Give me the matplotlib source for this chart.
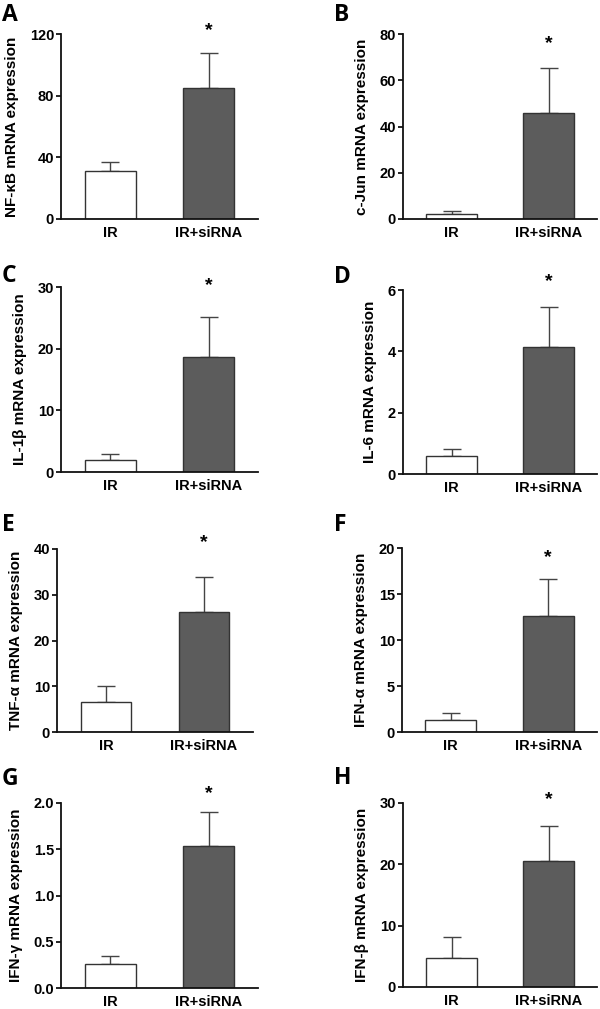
import numpy as np
import matplotlib
matplotlib.use('Agg')
from matplotlib import pyplot as plt

plt.rcParams['font.family'] = ['Liberation Sans', 'DejaVu Sans']

# data
groups = ['IR', 'IR+siRNA']
letters = ['A', 'B', 'C', 'D', 'E', 'F', 'G', 'H']
ylabels = ['NF-κB mRNA expression', 'c-Jun mRNA expression',
           'IL-1β mRNA expression', 'IL-6 mRNA expression',
           'TNF-α mRNA expression', 'IFN-α mRNA expression',
           'IFN-γ mRNA expression', 'IFN-β mRNA expression']
ir_mean = [31, 2.1, 1.9, 0.6, 6.6, 1.3, 0.26, 4.7]
ir_err = [6, 1.2, 1.0, 0.22, 3.4, 0.75, 0.09, 3.45]
si_mean = [85, 45.8, 18.6, 4.14, 26.2, 12.6, 1.535, 20.5]
si_err = [22.7, 19.5, 6.5, 1.31, 7.7, 4.0, 0.37, 5.75]
ymax = [120, 80, 30, 6, 40, 20, 2.0, 30]
yticks = [[0, 40, 80, 120], [0, 20, 40, 60, 80], [0, 10, 20, 30],
          [0, 2, 4, 6], [0, 10, 20, 30, 40], [0, 5, 10, 15, 20],
          [0.0, 0.5, 1.0, 1.5, 2.0], [0, 10, 20, 30]]
ticklabels = [None, None, None, None, None, None,
              ['0.0', '0.5', '1.0', '1.5', '2.0'], None]
star_y = [122, 76, 30.3, 6.26, 41.3, 19.0, 2.1, 30.5]

# axes boxes in pixels: left, top, width, height
W, H = 600, 1009
boxes = [(61, 34, 197, 185), (403, 34, 194, 185),
         (61, 287, 197, 185), (403, 290, 194, 184),
         (57, 549, 196, 183), (402, 548, 195, 184),
         (61, 803, 197, 185), (403, 803, 194, 184)]
letter_pos = [(2, 3), (334, 3), (2, 264), (334, 265),
              (2, 513), (334, 513), (2, 767), (334, 766)]

fig = plt.figure(figsize=(6, 10.09), dpi=100)

for i in range(8):
    l, t, w, h = boxes[i]
    ax = fig.add_axes([l / W, 1 - (t + h) / H, w / W, h / H])
    x = np.arange(2)
    ax.bar(x, [ir_mean[i], si_mean[i]], width=0.52,
           color=['white', '#5c5c5c'], edgecolor='#333333', linewidth=1.0,
           zorder=2)
    ax.errorbar(x, [ir_mean[i], si_mean[i]],
                yerr=[[0, 0], [ir_err[i], si_err[i]]],
                fmt='none', ecolor='#444444', elinewidth=1.0,
                capsize=6.5, capthick=1.0, zorder=1)
    ax.text(1, star_y[i], '*', ha='center', va='center',
            fontsize=14, fontweight='bold')
    ax.set_xlim(-0.5, 1.5)
    ax.set_ylim(0, ymax[i])
    ax.set_yticks(yticks[i])
    if ticklabels[i] is not None:
        ax.set_yticklabels(ticklabels[i])
    ax.set_xticks(x)
    ax.set_xticklabels(groups)
    for s in ['top', 'right']:
        ax.spines[s].set_visible(False)
    for s in ['left', 'bottom']:
        ax.spines[s].set_linewidth(1.3)
        ax.spines[s].set_color('#111111')
    ax.tick_params(axis='y', length=3.5, width=1.2, pad=1.5,
                   labelsize=10.5)
    ax.tick_params(axis='x', length=0, pad=5, labelsize=10.5)
    for lab in ax.get_xticklabels() + ax.get_yticklabels():
        lab.set_fontweight('bold')
    ax.set_ylabel(ylabels[i], fontsize=11, fontweight='bold', labelpad=7.5)
    lx, ly = letter_pos[i]
    fig.text(lx / W, 1 - ly / H, letters[i], ha='left', va='top',
             fontsize=16.5, fontweight='bold', family='Open Sans')

fig.savefig('out.png', dpi=100)
